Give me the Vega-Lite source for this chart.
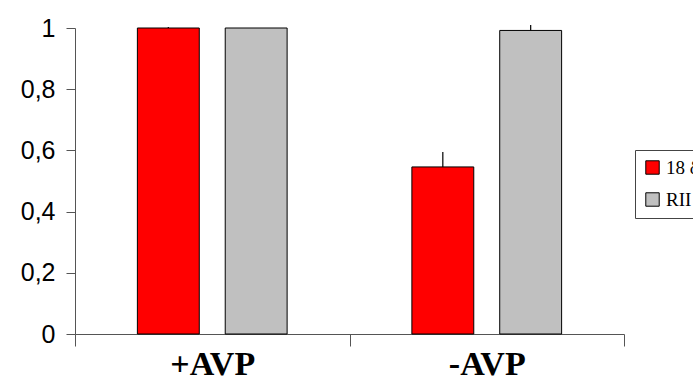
{
  "$schema": "https://vega.github.io/schema/vega-lite/v6.json",
  "autosize": {"type": "none"},
  "padding": {"left": 75, "top": 28, "right": 69, "bottom": 47},
  "width": 549,
  "height": 306,
  "background": "white",
  "config": {"view": {"stroke": null}},
  "data": {
    "values": [
      {"cond": "+AVP", "series": "18 δ", "value": 1.0, "upper": 1.003},
      {"cond": "+AVP", "series": "RII", "value": 1.0, "upper": 1.0},
      {"cond": "-AVP", "series": "18 δ", "value": 0.546, "upper": 0.595},
      {"cond": "-AVP", "series": "RII", "value": 0.992, "upper": 1.01}
    ]
  },
  "encoding": {
    "x": {
      "field": "cond",
      "type": "nominal",
      "sort": ["+AVP", "-AVP"],
      "scale": {"paddingInner": 0, "paddingOuter": 0},
      "axis": {
        "title": null,
        "labelAngle": 0,
        "labelFont": "Liberation Serif",
        "labelFontWeight": "bold",
        "labelFontSize": 34,
        "labelColor": "black",
        "labelPadding": 1,
        "tickBand": "extent",
        "tickSize": 12,
        "tickColor": "#555",
        "domainColor": "#555",
        "grid": false
      }
    },
    "xOffset": {
      "field": "series",
      "type": "nominal",
      "sort": ["18 δ", "RII"],
      "scale": {"paddingInner": 0.2955, "paddingOuter": 0.71}
    }
  },
  "layer": [
    {
      "mark": {"type": "bar", "stroke": "black", "strokeWidth": 1},
      "encoding": {
        "y": {
          "field": "value",
          "type": "quantitative",
          "scale": {"domain": [0, 1], "nice": false},
          "axis": {
            "title": null,
            "values": [0, 0.2, 0.4, 0.6, 0.8, 1],
            "format": "~g",
            "labelExpr": "replace(datum.label, '.', ',')",
            "labelFont": "Liberation Sans",
            "labelFontSize": 25,
            "labelColor": "black",
            "labelPadding": 11,
            "tickSize": 9,
            "tickColor": "#555",
            "domainColor": "#555",
            "grid": false
          }
        },
        "color": {
          "field": "series",
          "type": "nominal",
          "scale": {"domain": ["18 δ", "RII"], "range": ["#ff0000", "#c0c0c0"]},
          "legend": {
            "title": null,
            "orient": "none",
            "legendX": 560,
            "legendY": 122,
            "strokeColor": "#444",
            "padding": 8,
            "symbolType": "square",
            "symbolSize": 180,
            "symbolStrokeColor": "black",
            "symbolStrokeWidth": 1,
            "symbolOpacity": 1,
            "labelFont": "Liberation Serif",
            "labelFontSize": 19,
            "labelColor": "black",
            "labelOffset": 4,
            "rowPadding": 12
          }
        }
      }
    },
    {
      "mark": {"type": "rule", "color": "black", "strokeWidth": 1.2},
      "encoding": {
        "y": {"field": "value", "type": "quantitative"},
        "y2": {"field": "upper"}
      }
    }
  ]
}
